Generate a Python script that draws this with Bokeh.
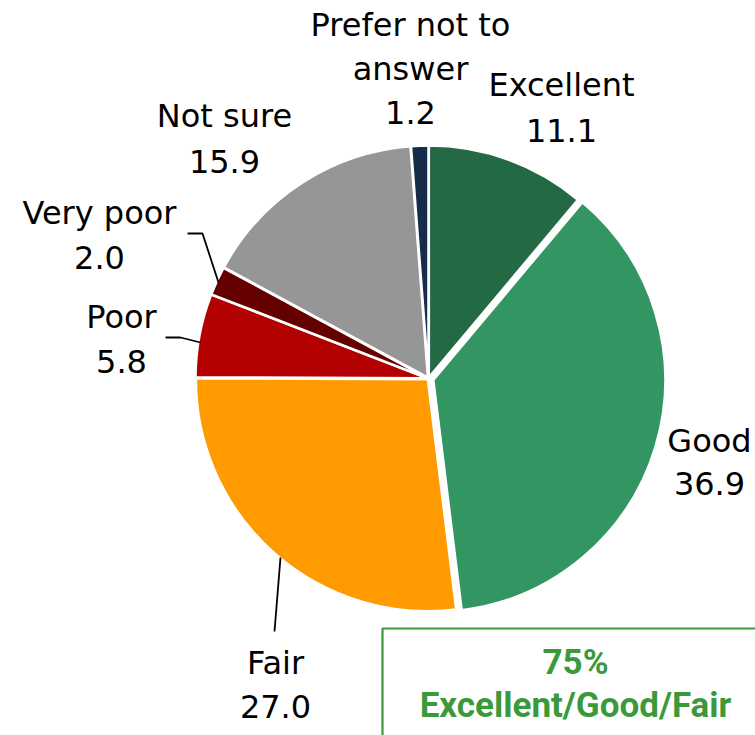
import math
from bokeh.plotting import figure
from bokeh.models import Range1d, ColumnDataSource
from bokeh.core.properties import value
from bokeh.embed import file_html
from bokeh.resources import INLINE

# ---- data ----
categories = ["Excellent", "Good", "Fair", "Poor", "Very poor", "Not sure", "Prefer not to answer"]
values = [11.1, 36.9, 27.0, 5.8, 2.0, 15.9, 1.2]
colors = ["#226944", "#339562", "#FF9A00", "#B30000", "#640000", "#969696", "#172B4A"]
summary_pct = "75%"
summary_label = "Excellent/Good/Fair"

# ---- layout (image pixel coords, y downward) ----
W, H = 755, 735
def Y(yimg):
    return H - yimg

cx, cy, R = 428, Y(378), 232
explode = {"Good": 5}

# label layout: (x center, first line center y, line gap, name lines)
label_layout = {
    "Excellent": (561, 84, 46, ["Excellent"]),
    "Good": (709, 440, 43, ["Good"]),
    "Fair": (275, 662, 44, ["Fair"]),
    "Poor": (121, 316, 45, ["Poor"]),
    "Very poor": (99, 212, 45, ["Very poor"]),
    "Not sure": (224, 115, 46, ["Not sure"]),
    "Prefer not to answer": (410, 24, 44, ["Prefer not to", "answer"]),
}

p = figure(width=W, height=H, output_backend="svg", toolbar_location=None,
           x_range=Range1d(0, W), y_range=Range1d(0, H),
           min_border=0, outline_line_color=None)
p.axis.visible = False
p.grid.visible = False
p.background_fill_color = "white"
p.border_fill_color = "white"

total = sum(values)
cum = 0.0
xs, ys, starts, ends = [], [], [], []
for cat, v in zip(categories, values):
    a0 = math.pi / 2 - 2 * math.pi * cum / total
    a1 = math.pi / 2 - 2 * math.pi * (cum + v) / total
    mid = (a0 + a1) / 2
    off = explode.get(cat, 1.0)
    xs.append(cx + off * math.cos(mid))
    ys.append(cy + off * math.sin(mid))
    starts.append(a0)
    ends.append(a1)
    cum += v

src = ColumnDataSource(dict(x=xs, y=ys, start=starts, end=ends, color=colors))
p.wedge(x="x", y="y", radius=R, start_angle="start", end_angle="end",
        direction="clock", fill_color="color", line_color="white", line_width=2.5, source=src)

# leader lines
leaders_x = [[165, 180, 200], [187, 202, 218], [274, 280]]
leaders_y = [[Y(337), Y(337), Y(342)], [Y(233), Y(233), Y(282)], [Y(631), Y(557)]]
p.multi_line(xs=leaders_x, ys=leaders_y, line_color="black", line_width=1.8)

# labels
tx, ty, tt = [], [], []
for cat, v in zip(categories, values):
    x0, y0, gap, lines = label_layout[cat]
    for i, ln in enumerate(lines + [f"{v:.1f}"]):
        tx.append(x0)
        ty.append(Y(y0 + i * gap))
        tt.append(ln)
p.text(x=tx, y=ty, text=tt, text_font=value("DejaVu Sans"), text_font_size="32px",
       text_align="center", text_baseline="middle", text_color="black")

# summary box
p.quad(left=[382], right=[780], top=[Y(628)], bottom=[-20], fill_color="white",
       line_color="#3C9B3C", line_width=2.2)
p.text(x=[575, 575], y=[Y(662), Y(705)], text=[summary_pct, summary_label],
       text_font=value("Roboto"), text_font_style="bold", text_font_size="35px",
       text_align="center", text_baseline="middle", text_color="#3A9A3A")

open("out.html", "w").write(file_html(p, INLINE))
